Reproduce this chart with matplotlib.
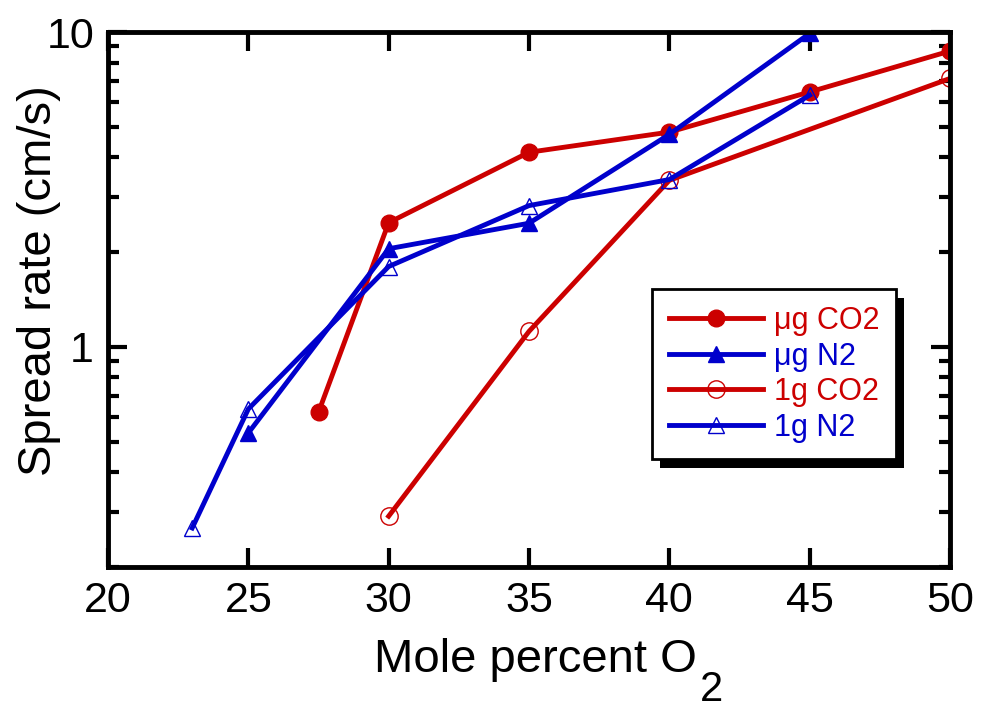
import matplotlib
matplotlib.use("Agg")
import matplotlib.pyplot as plt
from matplotlib.patches import Rectangle
from matplotlib.ticker import LogLocator, NullFormatter

plt.rcParams["font.family"] = ["Liberation Sans", "DejaVu Sans"]

# ── Data ──────────────────────────────────────────────────────────
ug_co2_x = [27.5, 30, 35, 40, 45, 50]
ug_co2_y = [0.62, 2.48, 4.15, 4.81, 6.45, 8.70]

ug_n2_x = [25, 30, 35, 40, 45]
ug_n2_y = [0.533, 2.05, 2.47, 4.73, 9.9]

g1_co2_x = [30, 35, 40, 50]
g1_co2_y = [0.290, 1.12, 3.38, 7.12]

g1_n2_x = [23, 25, 30, 35, 40, 45]
g1_n2_y = [0.266, 0.635, 1.80, 2.81, 3.40, 6.30]

x_ticks = [20, 25, 30, 35, 40, 45, 50]
y_ticks = [1, 10]
y_tick_labels = ["1", "10"]

RED  = "#CC0000"
BLUE = "#0000CC"

# ── Figure ────────────────────────────────────────────────────────
fig = plt.figure(figsize=(9.82, 7.13), dpi=100)
ax = fig.add_axes([108 / 982, 1 - 567 / 713, 842 / 982, 535 / 713])

lw = 3.5
ax.plot(ug_co2_x, ug_co2_y, color=RED, lw=lw, marker="o", ms=12,
        label="μg CO2")
ax.plot(ug_n2_x, ug_n2_y, color=BLUE, lw=lw, marker="^", ms=12,
        label="μg N2")
ax.plot(g1_co2_x, g1_co2_y, color=RED, lw=lw, marker="o", ms=12.5,
        mfc="none", mec=RED, mew=1.0, label="1g CO2")
ax.plot(g1_n2_x, g1_n2_y, color=BLUE, lw=lw, marker="^", ms=12,
        mfc="none", mec=BLUE, mew=1.0, label="1g N2")

ax.set_yscale("log")
ax.set_xlim(20, 50)
ax.set_ylim(0.2, 10)

ax.set_xticks(x_ticks)
ax.set_yticks(y_ticks, labels=y_tick_labels)
ax.yaxis.set_minor_locator(LogLocator(base=10, subs=range(2, 10)))
ax.yaxis.set_minor_formatter(NullFormatter())

for sp in ax.spines.values():
    sp.set_linewidth(3.5)

ax.tick_params(which="major", direction="in", length=14, width=3,
               top=True, right=True, labelsize=31, pad=10)
ax.tick_params(axis="y", which="minor", direction="in", length=8, width=3,
               left=True, right=True)
ax.tick_params(axis="x", which="minor", bottom=False, top=False)

ax.set_ylabel("Spread rate (cm/s)", fontsize=34)
ax.yaxis.set_label_coords(-0.056, 0.536)
xl = ax.set_xlabel("Mole percent O", fontsize=34)
ax.xaxis.set_label_coords(0.508, -0.132)
ax.annotate("2", xy=(1, 0), xycoords=xl, xytext=(2, -14),
            textcoords="offset points", ha="left", va="baseline",
            fontsize=30)

# ── Legend with hard black shadow ─────────────────────────────────
leg = ax.legend(loc="upper left", bbox_to_anchor=(0.646, 0.519),
                borderaxespad=0, fontsize=22, labelcolor="linecolor",
                fancybox=False, framealpha=1, edgecolor="black",
                handlelength=3.1, handletextpad=0.35, labelspacing=0.18,
                borderpad=0.55)
leg.get_frame().set_linewidth(2)

fig.canvas.draw()
bb = leg.get_frame().get_window_extent()
inv = fig.transFigure.inverted()
(x0, y0), (x1, y1) = inv.transform([(bb.x0 + 8, bb.y0 - 9),
                                     (bb.x1 + 8, bb.y1 - 9)])
ax.add_patch(Rectangle((x0, y0), x1 - x0, y1 - y0, transform=fig.transFigure,
                       facecolor="black", edgecolor="none", zorder=4.9,
                       clip_on=False))

fig.savefig("out.png", dpi=100)
plt.close(fig)
